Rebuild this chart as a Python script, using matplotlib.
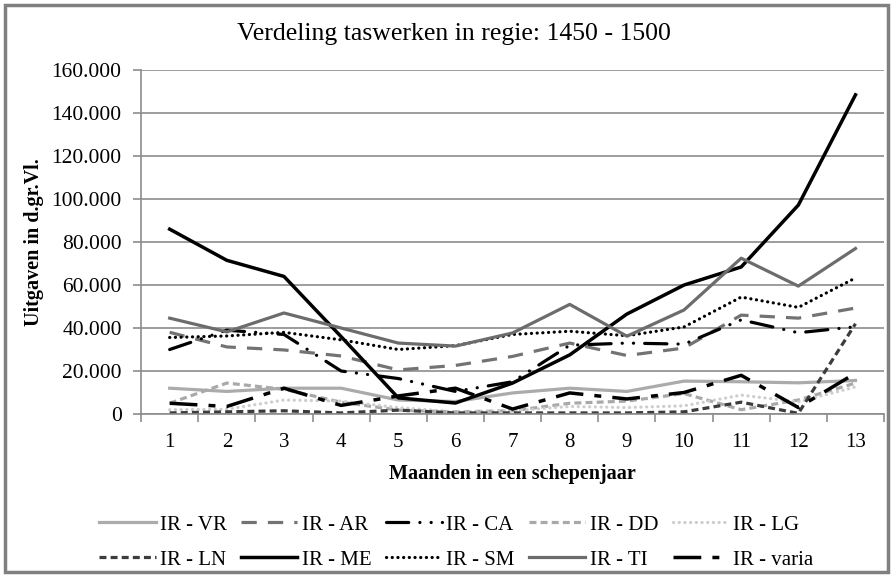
import matplotlib
matplotlib.use("Agg")
import matplotlib.pyplot as plt
from matplotlib.patches import Rectangle
from matplotlib.ticker import FuncFormatter, MultipleLocator

plt.rcParams['font.family'] = ['Liberation Serif', 'DejaVu Serif']
plt.rcParams['lines.scale_dashes'] = False

# months of the aldermen's year
months = list(range(1, 14))

# expenses per series (d.gr.Vl.)
ir_vr = [12000, 10500, 12000, 12000, 6500, 5800, 9800, 12000, 10500, 15300, 15000, 14500, 15600]
ir_ar = [38000, 31200, 29800, 27000, 20500, 22600, 26800, 33000, 27200, 30700, 46000, 44600, 49300]
ir_ca = [30000, 39000, 37000, 20000, 16500, 10500, 15000, 32000, 33000, 32500, 43800, 37800, 40600]
ir_dd = [5000, 14400, 11500, 5500, 1800, 1000, 1500, 5000, 6000, 9500, 2000, 6500, 14400]
ir_lg = [2000, 2200, 6500, 6000, 3000, 1000, 1500, 3500, 3000, 3800, 8800, 5600, 12600]
ir_ln = [500, 1000, 1500, 500, 1800, 500, 500, 500, 500, 1000, 5500, 300, 42000]
ir_me = [86000, 71500, 64000, 36000, 7500, 5100, 14400, 27500, 46500, 60000, 68400, 97200, 148500]
ir_sm = [35600, 36300, 38000, 34500, 30000, 31800, 37000, 38500, 36400, 40500, 54400, 49600, 63300]
ir_ti = [44600, 38200, 47000, 40000, 33000, 31600, 37700, 51000, 36200, 48400, 72500, 59500, 77000]
ir_varia = [5000, 3500, 12000, 4000, 8400, 12000, 2300, 9800, 7000, 10000, 18000, 3000, 19000]

series = [
    ("IR - VR", ir_vr, dict(color="#ababab", lw=2.3, ls="-")),
    ("IR - AR", ir_ar, dict(color="#737373", lw=2.3, ls=(0, (11, 8)))),
    ("IR - CA", ir_ca, dict(color="black", lw=2.3, ls=(0, (16, 8, 0.1, 8, 0.1, 8)),
                           dash_capstyle="round")),
    ("IR - DD", ir_dd, dict(color="#a9a9a9", lw=2.3, ls=(0, (5, 3)))),
    ("IR - LG", ir_lg, dict(color="#cdcdcd", lw=2.3, ls=(0, (0.1, 4)), dash_capstyle="round")),
    ("IR - LN", ir_ln, dict(color="#3c3c3c", lw=2.3, ls=(0, (5, 3)))),
    ("IR - ME", ir_me, dict(color="black", lw=2.5, ls="-")),
    ("IR - SM", ir_sm, dict(color="black", lw=2.3, ls=(0, (0.1, 4)), dash_capstyle="round")),
    ("IR - TI", ir_ti, dict(color="#6c6c6c", lw=2.3, ls="-")),
    ("IR - varia", ir_varia, dict(color="black", lw=2.5, ls=(0, (20, 8, 5, 8)))),
]

fig = plt.figure(figsize=(8.93, 5.77), dpi=100)
ax = fig.add_axes([0.158, 0.2825, 0.832, 0.596])

lines = {}
for name, vals, style in series:
    ln, = ax.plot(months, vals, label=name, **style)
    lines[name] = ln

grid_col = "#8c8c8c"
ax.set_xlim(0.5, 13.5)
ax.set_ylim(0, 160000)
ax.yaxis.set_major_locator(MultipleLocator(20000))
ax.yaxis.set_major_formatter(FuncFormatter(lambda v, p: f"{int(v):,}".replace(",", ".")))
ax.set_xticks(months)
ax.set_xticks([m + 0.5 for m in range(0, 14)], minor=True)
ax.tick_params(axis="x", which="major", length=0, pad=14, labelsize=15)
ax.tick_params(axis="x", which="minor", length=6, width=1.2, color=grid_col)
ax.tick_params(axis="y", length=6, width=1.2, color=grid_col, labelsize=15.5, pad=8)
ax.grid(axis="y", color=grid_col, lw=1.2)
ax.set_axisbelow(True)
for s in ["top", "right"]:
    ax.spines[s].set_visible(False)
for s in ["left", "bottom"]:
    ax.spines[s].set_color(grid_col)
    ax.spines[s].set_linewidth(1.2)

ax.set_xlabel("Maanden in een schepenjaar", fontsize=14.5, fontweight="bold", labelpad=8)
ax.set_ylabel("Uitgaven in d.gr.Vl.", fontsize=14.5, fontweight="bold", labelpad=5)
fig.text(0.508, 0.941, "Verdeling taswerken in regie: 1450 - 1500", ha="center", va="center",
         fontsize=18.5)

# legend filled column-wise, so reorder for row-wise reading
order = ["IR - VR", "IR - LN", "IR - AR", "IR - ME", "IR - CA",
         "IR - SM", "IR - DD", "IR - TI", "IR - LG", "IR - varia"]
fig.legend([lines[k] for k in order], order, loc="center", ncol=5,
           bbox_to_anchor=(0.511, 0.06), frameon=False, fontsize=15,
           handlelength=2.7, handletextpad=0.2, columnspacing=0.7, labelspacing=0.75)

fig.patches.append(Rectangle((5 / 893, 5 / 577), 883 / 893, 567 / 577, transform=fig.transFigure,
                             fill=False, edgecolor="#808080", lw=2.5))

fig.savefig("out.png", dpi=100)
